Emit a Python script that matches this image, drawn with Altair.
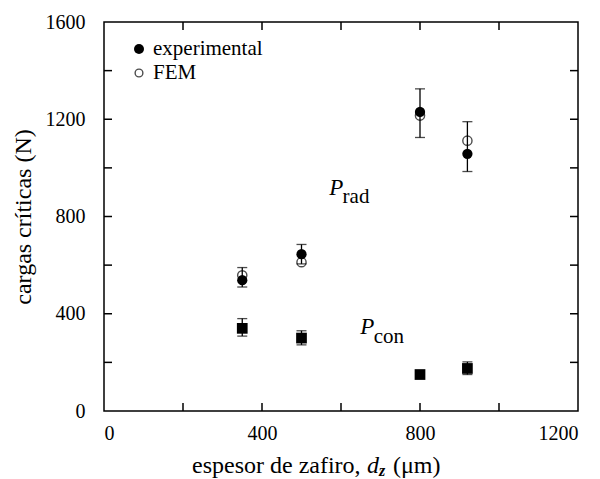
import altair as alt
import pandas as pd

thickness = [350, 500, 800, 920]
rad_exp = [538, 645, 1230, 1058]
rad_exp_lo = [510, 605, 1125, 985]
rad_exp_hi = [590, 685, 1325, 1190]
rad_fem = [558, 612, 1215, 1112]
con_exp = [340, 300, 150, 175]
con_lo = [308, 272, 150, 150]
con_hi = [380, 330, 150, 202]

x_minor = [200, 400, 600, 800, 1000]
y_minor = [200, 400, 600, 800, 1000, 1200, 1400]
x_labels = [0, 400, 800, 1200]
y_labels = [0, 400, 800, 1200, 1600]

FONT = "Liberation Serif"
W, H = 474, 389

df = pd.DataFrame({
    "t": thickness, "rad": rad_exp, "rlo": rad_exp_lo, "rhi": rad_exp_hi,
    "fem": rad_fem, "con": con_exp, "clo": con_lo, "chi": con_hi,
})

xs = alt.Scale(domain=[0, 1200], nice=False, zero=False)
ys = alt.Scale(domain=[0, 1600], nice=False, zero=False)

base = alt.Chart(df)

X = alt.X("t:Q", scale=xs, axis=alt.Axis(values=x_labels, format="d", title=None))
Y = alt.Y("rlo:Q", scale=ys, axis=alt.Axis(values=y_labels, format="d", title="cargas críticas (N)"))

rad_err = base.mark_rule(color="black", strokeWidth=1.3).encode(x=X, y=Y, y2="rhi:Q")
cap = dict(color="black", size=10, thickness=1.3, orient="horizontal")
rad_cap_lo = base.mark_tick(**cap).encode(x=alt.X("t:Q", scale=xs), y=alt.Y("rlo:Q", scale=ys))
rad_cap_hi = base.mark_tick(**cap).encode(x=alt.X("t:Q", scale=xs), y=alt.Y("rhi:Q", scale=ys))
con_err = base.mark_rule(color="black", strokeWidth=1.3).encode(
    x=alt.X("t:Q", scale=xs), y=alt.Y("clo:Q", scale=ys), y2="chi:Q")
con_cap_lo = base.mark_tick(**cap).encode(x=alt.X("t:Q", scale=xs), y=alt.Y("clo:Q", scale=ys))
con_cap_hi = base.mark_tick(**cap).encode(x=alt.X("t:Q", scale=xs), y=alt.Y("chi:Q", scale=ys))

fem_pts = base.mark_point(shape="circle", filled=False, color="black", size=85, strokeWidth=1.4).encode(
    x=alt.X("t:Q", scale=xs), y=alt.Y("fem:Q", scale=ys))
exp_pts = base.mark_point(shape="circle", filled=True, color="black", size=105, opacity=1).encode(
    x=alt.X("t:Q", scale=xs), y=alt.Y("rad:Q", scale=ys))
con_pts = base.mark_point(shape="square", filled=True, color="black", size=115, opacity=1).encode(
    x=alt.X("t:Q", scale=xs), y=alt.Y("con:Q", scale=ys))

# inward ticks on all four sides
xt = alt.Chart(pd.DataFrame({"v": x_minor}))
yt = alt.Chart(pd.DataFrame({"v": y_minor}))
tick_style = dict(color="black", strokeWidth=1.5)
t_bottom = xt.mark_rule(**tick_style).encode(x=alt.X("v:Q", scale=xs), y=alt.value(H), y2=alt.value(H - 8))
t_top = xt.mark_rule(**tick_style).encode(x=alt.X("v:Q", scale=xs), y=alt.value(0), y2=alt.value(8))
t_left = yt.mark_rule(**tick_style).encode(y=alt.Y("v:Q", scale=ys), x=alt.value(0), x2=alt.value(8))
t_right = yt.mark_rule(**tick_style).encode(y=alt.Y("v:Q", scale=ys), x=alt.value(W), x2=alt.value(W - 8))

# legend
leg_sym = pd.DataFrame({"lab": ["experimental", "FEM"], "fill": [True, False], "py": [27, 51]})
legc = alt.Chart(leg_sym)
leg_filled = legc.transform_filter("datum.fill").mark_point(shape="circle", filled=True, color="black", size=100, opacity=1).encode(
    x=alt.value(35), y=alt.Y("py:Q", scale=None))
leg_open = legc.transform_filter("!datum.fill").mark_point(shape="circle", filled=False, color="black", size=60, strokeWidth=1.4).encode(
    x=alt.value(35), y=alt.Y("py:Q", scale=None))
leg_text = legc.mark_text(align="left", baseline="middle", font=FONT, fontSize=21, color="black").encode(
    x=alt.value(49), y=alt.Y("py:Q", scale=None), text="lab:N")

# annotations P_rad and P_con
ann_P = pd.DataFrame({"x": [570, 649], "y": [918, 346], "s": ["P", "P"]})
ann_sub = pd.DataFrame({"x": [604, 683], "y": [880, 306], "s": ["rad", "con"]})
p_txt = alt.Chart(ann_P).mark_text(align="left", baseline="middle", font=FONT, fontSize=23, fontStyle="italic", color="black").encode(
    x=alt.X("x:Q", scale=xs), y=alt.Y("y:Q", scale=ys), text="s:N")
sub_txt = alt.Chart(ann_sub).mark_text(align="left", baseline="middle", font=FONT, fontSize=21, color="black").encode(
    x=alt.X("x:Q", scale=xs), y=alt.Y("y:Q", scale=ys), text="s:N")

# x title composed of pieces (italic d with subscript z)
title_parts = pd.DataFrame({
    "s": ["espesor de zafiro,", "d", "z", "(μm)"],
    "px": [88, 263, 275, 289],
    "py": [444, 444, 449, 444],
    "it": ["normal", "italic", "italic", "normal"],
})
tc = alt.Chart(title_parts)
t_norm = tc.transform_filter("datum.it == 'normal'").mark_text(align="left", baseline="middle", font=FONT, fontSize=24, color="black").encode(
    x=alt.X("px:Q", scale=None), y=alt.Y("py:Q", scale=None), text="s:N")
t_d = tc.transform_filter("datum.s == 'd'").mark_text(align="left", baseline="middle", font=FONT, fontSize=24, fontStyle="italic", color="black").encode(
    x=alt.X("px:Q", scale=None), y=alt.Y("py:Q", scale=None), text="s:N")
t_z = tc.transform_filter("datum.s == 'z'").mark_text(align="left", baseline="middle", font=FONT, fontSize=16, fontStyle="italic", fontWeight="bold", color="black").encode(
    x=alt.X("px:Q", scale=None), y=alt.Y("py:Q", scale=None), text="s:N")

chart = alt.layer(
    rad_err, rad_cap_lo, rad_cap_hi, con_err, con_cap_lo, con_cap_hi,
    fem_pts, exp_pts, con_pts,
    t_bottom, t_top, t_left, t_right,
    leg_filled, leg_open, leg_text,
    p_txt, sub_txt, t_norm, t_d, t_z,
).properties(
    width=W, height=H,
    padding={"left": 96, "top": 14, "right": 14, "bottom": 68},
    autosize="none",
    background="white",
).configure_view(stroke="black", strokeWidth=1.5).configure_axis(
    ticks=False, domain=False, grid=False,
    labelFont=FONT, labelFontSize=20, labelColor="black",
    titleFont=FONT, titleFontSize=24, titleFontWeight="normal", titleColor="black",
).configure_axisX(labelPadding=12).configure_axisY(labelPadding=19, titlePadding=10)

chart.save("out.html", embed_options={"renderer": "svg", "actions": False})
